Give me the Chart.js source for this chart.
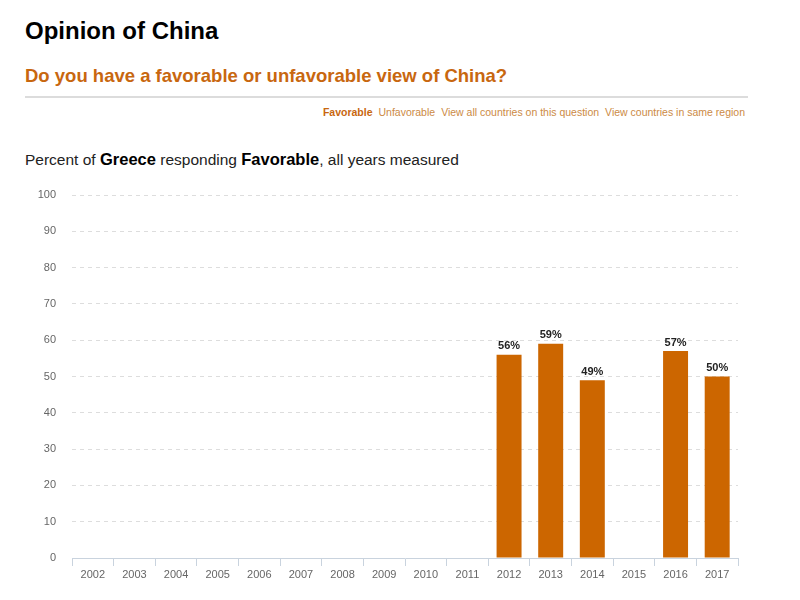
<!DOCTYPE html>
<html>
<head>
<meta charset="utf-8">
<script src="https://cdn.jsdelivr.net/npm/chart.js@4"></script>
<style>
  body { margin: 0; background: #fff; font-family: "Liberation Sans", Arial, sans-serif; }
  #titulo { position: absolute; left: 25px; top: 17px; margin: 0; font-size: 24px; font-weight: bold; color: #000; }
  #pregunta { position: absolute; left: 25px; top: 65px; margin: 0; font-size: 18.5px; font-weight: bold; color: #c8670f; }
  #linea { position: absolute; left: 25px; top: 96px; width: 723px; height: 2px; background: #dcdcdc; }
  #links { position: absolute; right: 55px; top: 106px; font-size: 10.5px; font-family: "Liberation Sans Narrow", "Liberation Sans", sans-serif; color: #cc8a45; }
  #links span { margin-left: 6px; }
  #links .activo { color: #c8670f; font-weight: bold; }
  #subtitulo { position: absolute; left: 25px; top: 150px; font-size: 15.5px; color: #222; }
  #subtitulo b { color: #000; font-size: 16.5px; }
  #wrap { position: absolute; left: 0; top: 180px; width: 800px; height: 420px; }
</style>
</head>
<body>
<h1 id="titulo">Opinion of China</h1>
<h2 id="pregunta">Do you have a favorable or unfavorable view of China?</h2>
<div id="linea"></div>
<div id="links"><span class="activo">Favorable</span><span>Unfavorable</span><span>View all countries on this question</span><span>View countries in same region</span></div>
<div id="subtitulo">Percent of <b>Greece</b> responding <b>Favorable</b>, all years measured</div>
<div id="wrap"><canvas id="canvaGrafico" width="800" height="420"></canvas></div>
<script>
const years = ["2002", "2003", "2004", "2005", "2006", "2007", "2008", "2009", "2010", "2011", "2012", "2013", "2014", "2015", "2016", "2017"];
const favorable = [null, null, null, null, null, null, null, null, null, null, 56, 59, 49, null, 57, 50];
const yTicks = [0, 10, 20, 30, 40, 50, 60, 70, 80, 90, 100];

const etiquetas = {
    id: "etiquetas",
    afterDatasetsDraw(chart) {
        const ctx = chart.ctx;
        const meta = chart.getDatasetMeta(0);
        ctx.save();
        ctx.font = "bold 11px 'Liberation Sans', Arial, sans-serif";
        ctx.fillStyle = "#222";
        ctx.textAlign = "center";
        ctx.textBaseline = "bottom";
        meta.data.forEach((bar, i) => {
            const v = favorable[i];
            if (v === null) return;
            ctx.fillText(v + "%", bar.x, bar.y - 3);
        });
        ctx.restore();
    }
};

const canvaGrafico = document.getElementById("canvaGrafico");
new Chart(canvaGrafico, {
    type: "bar",
    data: {
        labels: years,
        datasets: [{
            label: "Favorable",
            data: favorable,
            backgroundColor: "#cc6600",
            categoryPercentage: 0.6,
            barPercentage: 1
        }]
    },
    options: {
        responsive: false,
        animation: false,
        layout: { padding: { left: 0, right: 62, top: 15, bottom: 0 } },
        plugins: { legend: { display: false }, tooltip: { enabled: false } },
        scales: {
            x: {
                grid: { offset: true, drawOnChartArea: false, tickLength: 8, color: "#c9d3de" },
                border: { color: "#c9d3de" },
                ticks: { color: "#666", font: { size: 11, family: "'Liberation Sans', Arial, sans-serif" }, padding: 2 },
                afterFit: (s) => { s.height = 42; s.paddingLeft = 0; s.paddingRight = 0; }
            },
            y: {
                min: 0,
                max: 100,
                afterBuildTicks: (s) => { s.ticks = yTicks.map(v => ({ value: v })); },
                grid: { drawTicks: false, color: "#dddddd" },
                border: { display: false, dash: [4, 4] },
                ticks: { color: "#666", font: { size: 11, family: "'Liberation Sans', Arial, sans-serif" }, padding: 16 },
                afterFit: (s) => { s.width = 72; s.paddingTop = 0; s.paddingBottom = 0; }
            }
        }
    },
    plugins: [etiquetas]
});
</script>
</body>
</html>
